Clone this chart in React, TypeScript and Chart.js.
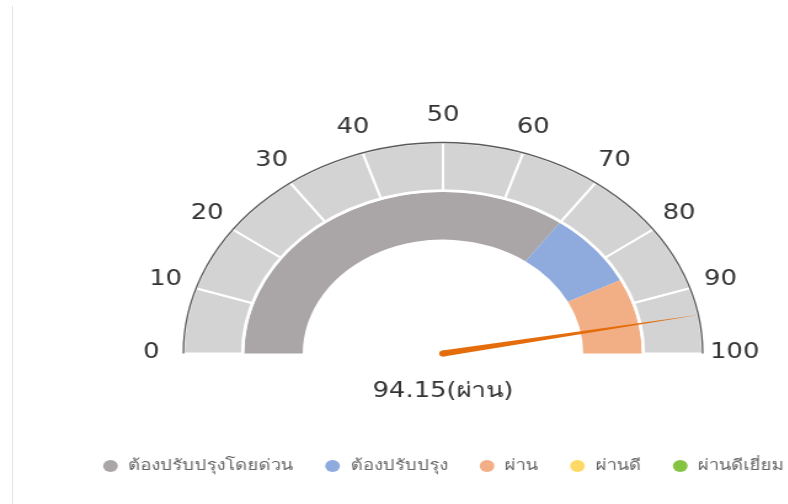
import React, { useEffect, useRef } from "react";
import { Chart, registerables } from "chart.js";

Chart.register(...registerables);

// ---- data ----
const tickLabels = ["0", "10", "20", "30", "40", "50", "60", "70", "80", "90", "100"];
const tickSegments = [10, 10, 10, 10, 10, 10, 10, 10, 10, 10];
const categoryLabels = ["ต้องปรับปรุงโดยด่วน", "ต้องปรับปรุง", "ผ่าน", "ผ่านดี", "ผ่านดีเยี่ยม"];
const categoryValues = [70, 15, 15, 0, 0];
const categoryColors = ["#AAA6A7", "#8FAADC", "#F2AE84", "#FFD966", "#84C441"];
const gaugeValue = 94.15;
const gaugeStatus = "ผ่าน";
const gaugeMax = 100;

const FONT = "'DejaVu Sans', 'Noto Sans', sans-serif";
const STRETCH = 1.2306;
const CW = 720;
const CH = 504;

const gaugePlugin = {
  id: "gaugeExtras",
  afterDatasetsDraw(chart: any) {
    const ctx = chart.ctx as CanvasRenderingContext2D;
    const outer = chart.getDatasetMeta(0).data[0] as any;
    const inner = chart.getDatasetMeta(1).data[0] as any;
    if (!outer || !inner) return;
    const cx = outer.x;
    const cy = outer.y;
    const R = outer.outerRadius;
    ctx.save();
    // white gap between rings
    ctx.beginPath();
    ctx.arc(cx, cy, inner.outerRadius + 0.5, Math.PI, 2 * Math.PI);
    ctx.strokeStyle = "#ffffff";
    ctx.lineWidth = 2.5;
    ctx.stroke();
    // dark outline on outer edge
    ctx.beginPath();
    ctx.arc(cx, cy, R, Math.PI, 2 * Math.PI);
    ctx.strokeStyle = "#5a5a5a";
    ctx.lineWidth = 1.3;
    ctx.stroke();

    // tick labels
    ctx.fillStyle = "#333333";
    ctx.font = `21px ${FONT}`;
    ctx.textAlign = "center";
    ctx.textBaseline = "middle";
    const labelR = R + 26;
    tickLabels.forEach((t) => {
      const v = parseFloat(t);
      const a = Math.PI + (v / gaugeMax) * Math.PI;
      ctx.fillText(t, cx + Math.cos(a) * labelR, cy + Math.sin(a) * labelR - 1);
    });

    // needle
    const a = Math.PI + (gaugeValue / gaugeMax) * Math.PI;
    const tx = cx + Math.cos(a) * (R + 1);
    const ty = cy + Math.sin(a) * (R + 1);
    const px = -Math.sin(a);
    const py = Math.cos(a);
    const hw = 3.1;
    ctx.fillStyle = "#E46C0A";
    ctx.beginPath();
    ctx.moveTo(cx + px * hw, cy + py * hw);
    ctx.lineTo(tx, ty);
    ctx.lineTo(cx - px * hw, cy - py * hw);
    ctx.closePath();
    ctx.fill();
    ctx.beginPath();
    ctx.arc(cx, cy, hw, 0, Math.PI * 2);
    ctx.fill();

    // center value text
    ctx.fillStyle = "#333333";
    ctx.font = `21px ${FONT}`;
    ctx.fillText(`${gaugeValue}(${gaugeStatus})`, cx, cy + 38);
    ctx.restore();
  },
};

export default function App() {
  const ref = useRef<HTMLCanvasElement | null>(null);
  useEffect(() => {
    if (!ref.current) return;
    const chart = new Chart(ref.current, {
      type: "doughnut",
      data: {
        labels: categoryLabels,
        datasets: [
          {
            data: tickSegments,
            backgroundColor: "#D3D3D3",
            borderColor: "#ffffff",
            borderWidth: 2,
          },
          {
            data: categoryValues,
            backgroundColor: categoryColors,
            borderWidth: 0,
          },
        ],
      },
      options: {
        responsive: false,
        animation: false,
        rotation: -90,
        circumference: 180,
        radius: 211,
        cutout: "54%",
        layout: { padding: { top: 62.5, bottom: 20.5, left: 0, right: 0 } },
        plugins: {
          tooltip: { enabled: false },
          legend: {
            display: true,
            position: "bottom",
            labels: {
              usePointStyle: true,
              boxWidth: 14,
              boxHeight: 8.5,
              padding: 25,
              color: "#666666",
              font: { size: 15, family: FONT },
              generateLabels: () =>
                categoryLabels.map((l, i) => ({
                  text: l,
                  fillStyle: categoryColors[i],
                  strokeStyle: categoryColors[i],
                  lineWidth: 0,
                  pointStyle: "circle",
                  hidden: false,
                  index: i,
                  fontColor: "#666666",
                })),
            },
          },
        },
      },
      plugins: [gaugePlugin],
    });
    return () => chart.destroy();
  }, []);

  return (
    <div
      style={{
        position: "fixed",
        left: 0,
        top: 0,
        width: 788,
        height: 504,
        overflow: "hidden",
        background: "#ffffff",
      }}
    >
      <canvas
        ref={ref}
        width={CW}
        height={CH}
        style={{
          position: "absolute",
          left: 0,
          top: 0,
          width: `${CW}px`,
          height: `${CH}px`,
          transform: `scaleX(${STRETCH})`,
          transformOrigin: "0 0",
        }}
      />
      <div
        style={{
          position: "absolute",
          left: 12,
          top: 6,
          width: 1,
          height: 498,
          background: "#e4e4e4",
        }}
      />
    </div>
  );
}
